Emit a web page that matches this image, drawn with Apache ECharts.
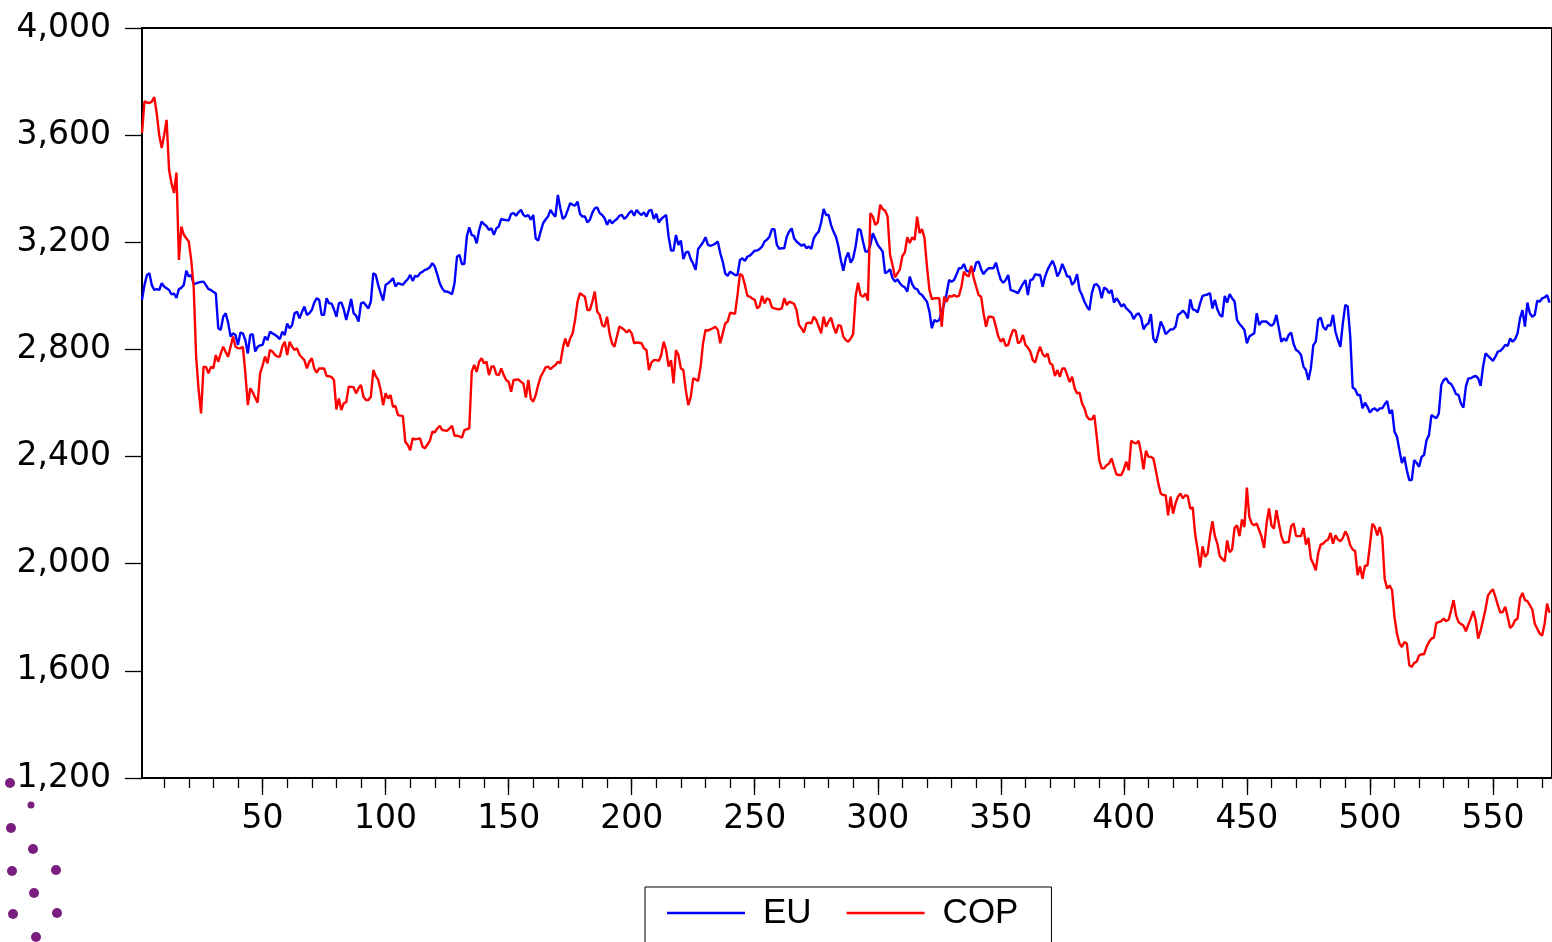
<!DOCTYPE html>
<html>
<head>
<meta charset="utf-8">
<title>EU and COP</title>
<script src="https://cdn.jsdelivr.net/npm/echarts@6/dist/echarts.min.js"></script>
<style>
  html, body { margin: 0; padding: 0; background: #ffffff; }
  #chart { width: 1552px; height: 942px; }
</style>
</head>
<body>
<div id="chart"></div>
<script>
// Series names
const seriesNames = ['EU', 'COP'];

// EU, observations 1..573
const euValues = [
  2985,3040,3078,3084,3040,3022,3025,3022,3047,3035,
  3028,3022,3005,3009,2992,3025,3030,3041,3094,3072,
  3078,3044,3047,3050,3052,3053,3040,3025,3022,3015,
  3009,2879,2873,2922,2935,2900,2848,2860,2854,2817,
  2863,2860,2835,2785,2854,2857,2792,2810,2815,2817,
  2848,2835,2866,2860,2855,2848,2838,2866,2854,2897,
  2879,2890,2935,2941,2916,2940,2960,2929,2935,2947,
  2975,2991,2985,2929,2929,2991,2972,2972,2950,2922,
  2972,2976,2950,2910,2947,2988,2935,2926,2904,2972,
  2976,2965,2953,2979,3085,3078,3040,3010,2982,3041,
  3047,3055,3066,3035,3047,3045,3041,3053,3062,3078,
  3056,3075,3072,3085,3090,3097,3100,3107,3122,3109,
  3080,3047,3028,3016,3016,3012,3006,3047,3146,3153,
  3119,3119,3221,3256,3227,3224,3196,3245,3277,3268,
  3260,3246,3252,3228,3252,3259,3287,3284,3283,3281,
  3306,3309,3299,3312,3321,3302,3296,3302,3284,3302,
  3215,3206,3240,3271,3285,3296,3321,3306,3296,3377,
  3327,3287,3296,3320,3346,3340,3337,3352,3306,3296,
  3296,3274,3284,3310,3327,3330,3309,3302,3290,3265,
  3284,3271,3280,3287,3299,3302,3287,3296,3310,3318,
  3299,3321,3309,3302,3312,3296,3318,3321,3287,3306,
  3274,3287,3295,3302,3221,3169,3169,3227,3190,3206,
  3137,3162,3165,3137,3120,3097,3175,3187,3200,3219,
  3190,3187,3190,3195,3203,3159,3128,3084,3075,3090,
  3084,3078,3078,3134,3140,3131,3146,3150,3159,3169,
  3169,3175,3184,3203,3210,3221,3249,3249,3190,3175,
  3178,3178,3221,3240,3252,3215,3203,3195,3187,3193,
  3178,3184,3175,3215,3230,3240,3274,3324,3302,3302,
  3265,3240,3221,3184,3134,3094,3140,3162,3124,3140,
  3184,3249,3246,3203,3165,3165,3190,3234,3212,3190,
  3178,3165,3084,3090,3099,3066,3053,3062,3047,3037,
  3032,3016,3072,3044,3028,3025,3009,3003,2990,2978,
  2941,2879,2910,2904,2910,2941,2972,3010,3059,3053,
  3059,3080,3103,3103,3119,3094,3090,3103,3090,3124,
  3128,3099,3081,3094,3103,3103,3103,3124,3090,3060,
  3049,3059,3078,3022,3019,3015,3010,3028,3045,3059,
  3003,3059,3062,3081,3078,3078,3034,3072,3097,3115,
  3131,3109,3072,3090,3119,3097,3072,3072,3041,3053,
  3081,3022,3003,2978,2960,2947,3010,3041,3044,3031,
  2991,3031,3025,3010,3022,2975,2991,2978,2960,2969,
  2953,2945,2935,2913,2929,2935,2919,2875,2891,2897,
  2932,2841,2825,2860,2904,2885,2857,2866,2875,2875,
  2885,2929,2935,2945,2935,2916,2987,2950,2947,2938,
  2972,3000,3003,3005,3010,2953,2985,2950,2929,2922,
  3000,2975,3007,2991,2979,2910,2895,2885,2873,2823,
  2848,2855,2860,2935,2891,2904,2904,2904,2895,2888,
  2897,2929,2879,2829,2841,2832,2854,2863,2820,2798,
  2792,2779,2736,2723,2686,2729,2816,2829,2910,2919,
  2885,2873,2891,2888,2929,2866,2835,2810,2897,2966,
  2960,2850,2658,2651,2630,2630,2580,2601,2586,2564,
  2576,2580,2570,2580,2580,2595,2608,2561,2574,2493,
  2474,2424,2376,2399,2349,2312,2312,2387,2376,2362,
  2399,2406,2461,2480,2555,2549,2543,2561,2667,2686,
  2692,2676,2671,2655,2633,2630,2598,2583,2661,2692,
  2692,2698,2701,2692,2664,2736,2785,2776,2767,2757,
  2773,2792,2795,2804,2817,2813,2841,2829,2838,2860,
  2916,2947,2885,2975,2935,2922,2929,2982,2978,2991,
  2994,3003,2975
];

// COP, observations 1..573
const copValues = [
  3608,3726,3722,3720,3725,3742,3680,3600,3552,3600,
  3657,3470,3420,3384,3460,3134,3259,3228,3215,3203,
  3134,3034,2773,2650,2561,2735,2735,2711,2735,2730,
  2779,2754,2785,2810,2790,2773,2810,2848,2810,2805,
  2804,2810,2711,2592,2655,2640,2620,2601,2711,2740,
  2773,2748,2798,2792,2780,2773,2773,2810,2829,2779,
  2829,2810,2798,2804,2780,2770,2760,2729,2754,2767,
  2729,2713,2729,2729,2729,2701,2700,2697,2686,2576,
  2617,2574,2599,2603,2661,2660,2659,2636,2655,2667,
  2623,2611,2611,2623,2723,2700,2686,2648,2592,2636,
  2617,2630,2586,2589,2555,2553,2552,2455,2443,2424,
  2468,2464,2466,2468,2437,2431,2445,2459,2493,2490,
  2505,2515,2499,2498,2496,2505,2515,2478,2478,2475,
  2471,2499,2502,2505,2716,2742,2716,2754,2767,2748,
  2754,2704,2736,2736,2707,2704,2729,2704,2686,2679,
  2642,2686,2687,2688,2679,2673,2620,2686,2617,2605,
  2630,2667,2698,2715,2733,2736,2726,2735,2742,2754,
  2748,2804,2841,2810,2841,2860,2910,2978,3010,3003,
  2997,2947,2947,2978,3016,2941,2929,2891,2885,2922,
  2860,2823,2810,2848,2885,2880,2873,2863,2873,2860,
  2823,2826,2825,2823,2804,2798,2723,2751,2760,2760,
  2757,2779,2829,2798,2736,2760,2673,2798,2779,2729,
  2723,2648,2592,2623,2692,2688,2682,2736,2823,2873,
  2870,2875,2879,2885,2873,2823,2860,2897,2904,2937,
  2935,2933,3003,3082,3075,3041,3000,2997,2990,2985,
  2953,2962,3000,2972,2991,2985,2957,2953,2951,2950,
  2953,2991,2966,2978,2975,2970,2947,2891,2879,2863,
  2897,2900,2897,2922,2910,2885,2860,2922,2885,2904,
  2919,2885,2860,2891,2888,2848,2835,2829,2841,2857,
  2997,3049,3003,2997,3009,2982,3309,3296,3265,3274,
  3340,3324,3318,3296,3153,3115,3069,3084,3099,3149,
  3162,3219,3197,3219,3209,3296,3234,3249,3215,3109,
  3022,2988,2991,2991,2991,2885,2997,2978,3000,2997,
  3003,2997,3000,3034,3090,3078,3072,3112,3066,3034,
  3003,2997,2935,2885,2922,2922,2919,2885,2848,2829,
  2841,2813,2817,2848,2873,2870,2823,2829,2854,2817,
  2807,2792,2760,2751,2785,2810,2782,2773,2785,2748,
  2742,2701,2723,2698,2729,2729,2704,2678,2698,2655,
  2636,2639,2599,2580,2549,2539,2539,2555,2474,2387,
  2356,2356,2368,2374,2393,2362,2334,2331,2331,2352,
  2381,2349,2459,2452,2449,2459,2415,2352,2422,2399,
  2399,2393,2349,2300,2262,2256,2256,2181,2250,2187,
  2225,2250,2262,2244,2256,2252,2206,2210,2109,2053,
  1986,2065,2025,2037,2103,2159,2103,2075,2028,2018,
  2009,2087,2043,2053,2134,2143,2103,2165,2137,2284,
  2175,2150,2143,2150,2125,2100,2059,2150,2206,2143,
  2131,2200,2150,2103,2078,2080,2081,2140,2150,2103,
  2103,2103,2134,2071,2096,2019,2000,1975,2040,2071,
  2075,2085,2090,2115,2075,2106,2090,2084,2096,2121,
  2103,2069,2053,2047,1957,1990,1944,1993,1993,2069,
  2149,2137,2106,2137,2100,1944,1907,1919,1901,1800,
  1739,1702,1689,1708,1702,1621,1615,1630,1634,1658,
  1662,1662,1689,1708,1720,1724,1779,1782,1786,1795,
  1786,1791,1826,1864,1808,1782,1775,1769,1748,1773,
  1795,1823,1789,1720,1751,1789,1832,1882,1895,1904,
  1876,1845,1817,1820,1839,1801,1760,1769,1789,1795,
  1870,1891,1864,1860,1845,1829,1776,1757,1739,1732,
  1776,1851,1817
];

// Axis ticks
const xMajorTicks = [50, 100, 150, 200, 250, 300, 350, 400, 450, 500, 550];
const xMinorTicks = [10, 20, 30, 40, 50, 60, 70, 80, 90, 100, 110, 120, 130, 140, 150, 160, 170, 180, 190, 200,
  210, 220, 230, 240, 250, 260, 270, 280, 290, 300, 310, 320, 330, 340, 350, 360, 370, 380, 390, 400,
  410, 420, 430, 440, 450, 460, 470, 480, 490, 500, 510, 520, 530, 540, 550, 560, 570];
const yMin = 1200;
const yMax = 4000;
const yStep = 400;

const toPairs = arr => arr.map((v, i) => [i + 1, v]);
const fmtThousands = v => String(v).replace(/\B(?=(\d{3})+(?!\d))/g, ',');

const chart = echarts.init(document.getElementById('chart'), null, { renderer: 'canvas' });

const labelFont = 'DejaVu Sans';
const xRange = { min: 1, max: 574 };
const colors = { EU: '#0000ff', COP: '#ff0000' };

// decorative dot ornament, lower-left corner
const ornamentDots = [
  [10, 783, 5], [31, 805, 3.5], [11, 828, 5], [33, 849, 5], [12, 871, 5],
  [56, 870, 5], [34, 893, 5], [13, 914, 5], [57, 913, 5], [36, 937, 5]
];

chart.setOption({
  backgroundColor: '#ffffff',
  animation: false,
  grid: {
    left: 142, right: -2, top: 28, bottom: 164,
    show: true, borderColor: '#000000', borderWidth: 2, backgroundColor: 'transparent'
  },
  xAxis: [
    {
      type: 'value', position: 'bottom', min: xRange.min, max: xRange.max,
      axisLine: { show: true, lineStyle: { color: '#000000', width: 2 } },
      axisTick: { show: true, inside: false, length: 10, customValues: xMinorTicks, lineStyle: { color: '#000000', width: 1.3 } },
      axisLabel: { show: false },
      splitLine: { show: false }
    },
    {
      type: 'value', position: 'bottom', min: xRange.min, max: xRange.max,
      axisLine: { show: false },
      axisTick: { show: true, inside: false, length: 17, customValues: xMajorTicks, lineStyle: { color: '#000000', width: 1.3 } },
      axisLabel: {
        show: true, customValues: xMajorTicks, margin: 25,
        color: '#000000', fontFamily: labelFont, fontSize: 33
      },
      splitLine: { show: false }
    }
  ],
  yAxis: {
    type: 'value', min: yMin, max: yMax, interval: yStep,
    axisLine: { show: true, lineStyle: { color: '#000000', width: 2 } },
    axisTick: { show: true, inside: false, length: 17, lineStyle: { color: '#000000', width: 1.3 } },
    axisLabel: {
      margin: 31, color: '#000000', fontFamily: labelFont, fontSize: 33,
      formatter: v => fmtThousands(v)
    },
    splitLine: { show: false }
  },
  legend: {
    left: 645, top: 887,
    orient: 'horizontal',
    data: seriesNames.map(n => ({ name: n, icon: 'rect', itemStyle: { color: colors[n] } })),
    itemWidth: 78, itemHeight: 2.5, itemGap: 35,
    padding: [8, 33, 14, 22],
    borderColor: '#000000', borderWidth: 1, backgroundColor: '#ffffff',
    textStyle: {
      fontFamily: 'Liberation Sans', fontSize: 35, color: '#000000',
      padding: [0, 0, 0, 13], lineHeight: 36
    }
  },
  series: [
    {
      name: seriesNames[0], type: 'line', xAxisIndex: 0, data: toPairs(euValues),
      symbol: 'none', lineStyle: { color: colors.EU, width: 2.4 }, itemStyle: { color: colors.EU },
      z: 2
    },
    {
      name: seriesNames[1], type: 'line', xAxisIndex: 0, data: toPairs(copValues),
      symbol: 'none', lineStyle: { color: colors.COP, width: 2.4 }, itemStyle: { color: colors.COP },
      z: 3
    }
  ],
  graphic: ornamentDots.map(([cx, cy, r]) => ({
    type: 'circle', silent: true, shape: { cx, cy, r }, style: { fill: '#7a1f80' }
  }))
});
</script>
</body>
</html>
